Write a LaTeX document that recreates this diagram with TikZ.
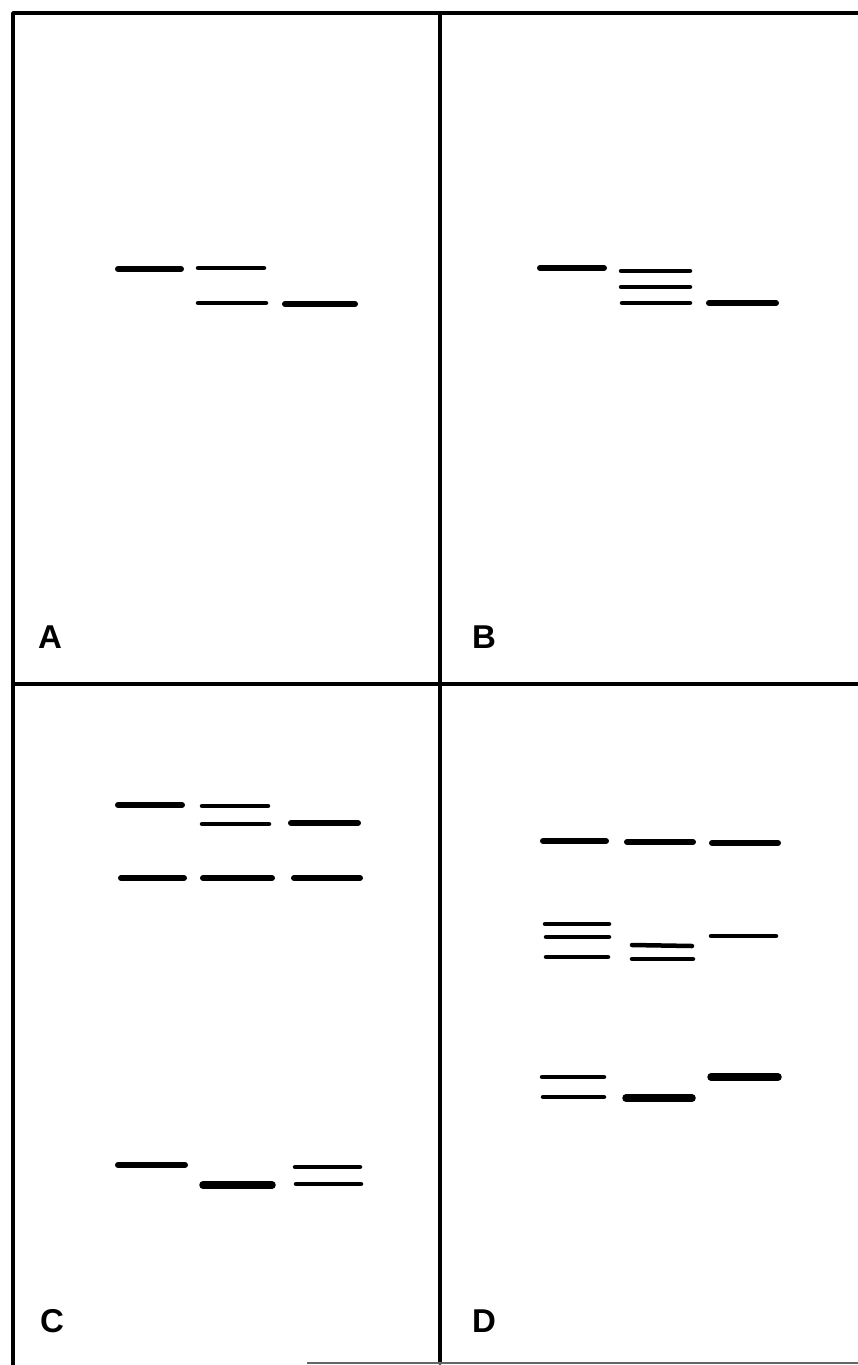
\documentclass[tikz,border=0pt]{standalone}
\usepackage{fontspec}
\setmainfont{Liberation Sans}
\begin{document}
\begin{tikzpicture}[x=1pt,y=-1pt,
  frame/.style={line width=3.5pt,line join=round,line cap=round},
  thick band/.style={line width=6pt,line cap=round},
  thin band/.style={line width=4.5pt,line cap=round},
  fat band/.style={line width=7.5pt,line cap=round},
  panel label/.style={font=\fontsize{33}{33}\selectfont\bfseries,inner sep=0pt,anchor=center}]
\useasboundingbox (0,0) rectangle (858,1365);
% frame
\draw[frame] (13,1365) -- (13,13) -- (858,13);
\draw[frame] (440,13) -- (440,1363);
\draw[frame] (13,684) -- (858,684);
\draw[line width=1.5pt,black!60] (307,1363) -- (858,1363);
% panel A
\draw[thick band] (118,269) -- (181,269);
\draw[thin band] (198,268) -- (264,268);
\draw[thin band] (198,303) -- (266,303);
\draw[thick band] (285,304) -- (355,304);
% panel B
\draw[thick band] (540,268) -- (604,268);
\draw[thin band] (621,271) -- (690,271);
\draw[thin band] (621,287) -- (690,287);
\draw[thin band] (622,303) -- (690,303);
\draw[thick band] (709,303) -- (776,303);
% panel C
\draw[thick band] (118,805) -- (182,805);
\draw[thin band] (202,806) -- (268,806);
\draw[thin band] (202,824) -- (269,824);
\draw[thick band] (291,823) -- (358,823);
\draw[thick band] (121,878) -- (184,878);
\draw[thick band] (203,878) -- (272,878);
\draw[thick band] (294,878) -- (360,878);
\draw[thick band] (118,1165) -- (185,1165);
\draw[fat band] (203,1185) -- (272,1185);
\draw[thin band] (295,1167) -- (360,1167);
\draw[thin band] (296,1184) -- (361,1184);
% panel D
\draw[thick band] (543,841) -- (606,841);
\draw[thick band] (627,842) -- (693,842);
\draw[thick band] (712,843) -- (778,843);
\draw[thin band] (545,924) -- (609,924);
\draw[thin band] (546,937) -- (609,937);
\draw[thin band] (546,957) -- (608,957);
\draw[thin band] (632,945) -- (692,946);
\draw[thin band] (632,959) -- (693,959);
\draw[thin band] (711,936) -- (776,936);
\draw[thin band] (542,1077) -- (604,1077);
\draw[thin band] (543,1097) -- (604,1097);
\draw[fat band] (626,1098) -- (692,1098);
\draw[fat band] (711,1077) -- (778,1077);
% labels
\node[panel label] (la) at (50,637) {A};
\node[panel label] (lb) at (484,637) {B};
\node[panel label] (lc) at (52,1321) {C};
\node[panel label] (ld) at (484,1321) {D};
\end{tikzpicture}
\end{document}
